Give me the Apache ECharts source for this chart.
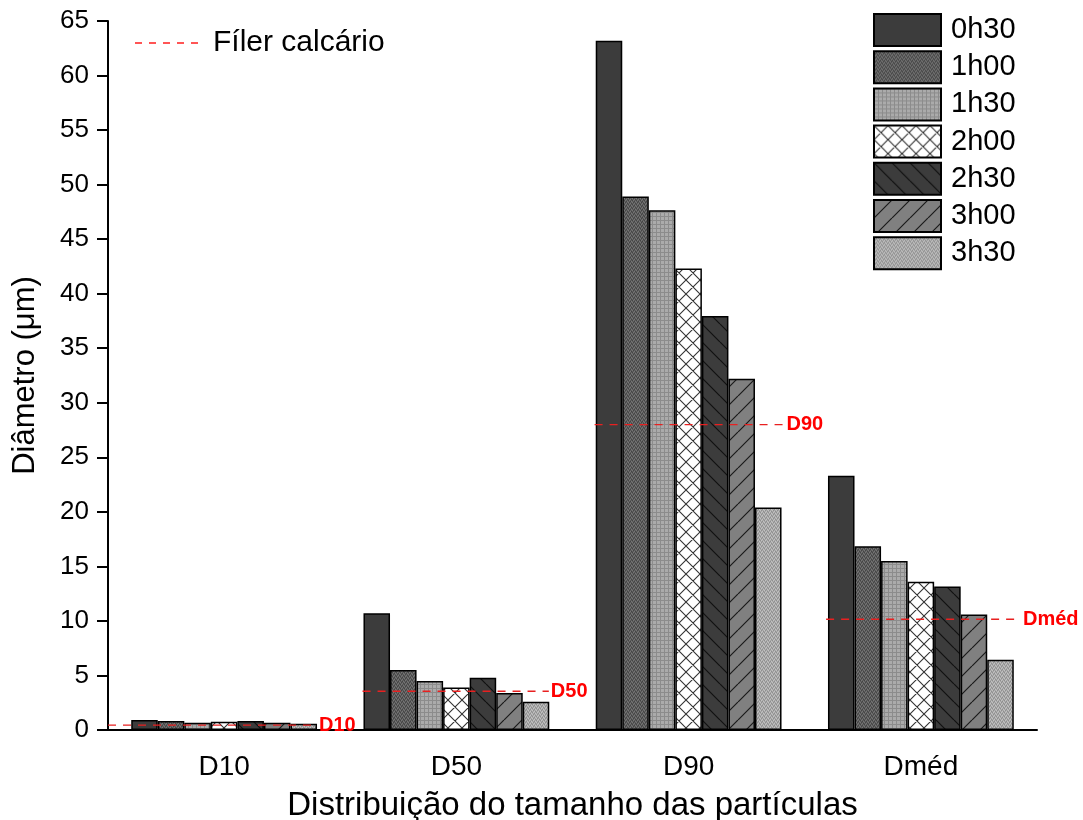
<!DOCTYPE html>
<html>
<head>
<meta charset="utf-8">
<script src="https://cdn.jsdelivr.net/npm/echarts@6/dist/echarts.min.js"></script>
<style>html,body{margin:0;padding:0;background:#fff}#c{width:1083px;height:820px}</style>
</head>
<body>
<div id="c"></div>
<script>
const categories = ['D10', 'D50', 'D90', 'Dméd'];
const seriesNames = ['0h30', '1h00', '1h30', '2h00', '2h30', '3h00', '3h30'];
const v0h30 = [0.92, 10.7, 63.2, 23.3];
const v1h00 = [0.83, 5.5, 48.9, 16.85];
const v1h30 = [0.67, 4.5, 47.65, 15.5];
const v2h00 = [0.76, 3.9, 42.3, 13.6];
const v2h30 = [0.83, 4.8, 37.95, 13.15];
const v3h00 = [0.67, 3.4, 32.2, 10.6];
const v3h30 = [0.58, 2.6, 20.4, 6.45];
const filerValues = [0.45, 3.55, 28.0, 10.15];
const filerLabels = ['D10', 'D50', 'D90', 'Dméd'];
const yTicks = { min: 0, max: 65, interval: 5 };

const allValues = [v0h30, v1h00, v1h30, v2h00, v2h30, v3h00, v3h30];

// line extents on the hidden value x axis (category i spans [i, i+1])
const lineExtents = [[0.0, 0.9], [1.096, 1.898], [2.095, 2.913], [3.092, 3.931]];

function makeCanvas(w, h, draw) {
  const c = document.createElement('canvas');
  c.width = w; c.height = h;
  const ctx = c.getContext('2d');
  draw(ctx, w, h);
  return { image: c, repeat: 'repeat' };
}
function noise(base, dark, light) {
  return makeCanvas(4, 4, (ctx) => {
    ctx.fillStyle = base; ctx.fillRect(0, 0, 4, 4);
    ctx.fillStyle = dark;
    [[0,0],[2,1],[1,2],[3,3]].forEach(p => ctx.fillRect(p[0], p[1], 1, 1));
    ctx.fillStyle = light;
    [[1,0],[3,1],[0,2],[2,3]].forEach(p => ctx.fillRect(p[0], p[1], 1, 1));
  });
}
function grid(base, line) {
  return makeCanvas(4, 4, (ctx) => {
    ctx.fillStyle = base; ctx.fillRect(0, 0, 4, 4);
    ctx.fillStyle = line;
    ctx.fillRect(0, 0, 4, 1);
    ctx.fillRect(0, 0, 1, 4);
  });
}
function diag(base, line, period, dir) {
  return makeCanvas(period, period, (ctx, w, h) => {
    ctx.fillStyle = base; ctx.fillRect(0, 0, w, h);
    ctx.strokeStyle = line; ctx.lineWidth = 1.2;
    ctx.beginPath();
    for (let k = -1; k <= 1; k++) {
      if (dir > 0) { ctx.moveTo(k * w, h); ctx.lineTo(k * w + w, 0); }
      else { ctx.moveTo(k * w, 0); ctx.lineTo(k * w + w, h); }
    }
    ctx.stroke();
  });
}
function cross(base, line, period) {
  return makeCanvas(period, period, (ctx, w, h) => {
    ctx.fillStyle = base; ctx.fillRect(0, 0, w, h);
    ctx.strokeStyle = line; ctx.lineWidth = 1.1;
    ctx.beginPath();
    for (let k = -1; k <= 1; k++) {
      ctx.moveTo(k * w, h); ctx.lineTo(k * w + w, 0);
      ctx.moveTo(k * w, 0); ctx.lineTo(k * w + w, h);
    }
    ctx.stroke();
  });
}

const fills = [
  '#3c3c3c',
  noise('#5c5c5c', '#444444', '#767676'),
  grid('#ababab', '#8c8c8c'),
  cross('#ffffff', '#333333', 14),
  diag('#3c3c3c', '#111111', 18, -1),
  diag('#808080', '#1a1a1a', 18, 1),
  noise('#a8a8a8', '#8e8e8e', '#c2c2c2')
];

const font = 'Liberation Sans, Arial, sans-serif';
const red = '#e82020';

const series = [];
seriesNames.forEach((n, i) => {
  series.push({
    name: n, type: 'bar', xAxisIndex: 0, yAxisIndex: 0,
    data: allValues[i],
    barGap: '0%', barCategoryGap: '20%',
    itemStyle: { color: fills[i], borderColor: '#000', borderWidth: 1.5 },
    z: 2
  });
});
categories.forEach((c, i) => {
  series.push({
    name: 'Fíler calcário', type: 'line', xAxisIndex: 1, yAxisIndex: 0,
    data: [[lineExtents[i][0], filerValues[i]], [lineExtents[i][1], filerValues[i]]],
    symbol: 'none', silent: true,
    lineStyle: { color: red, width: 1.4, type: [8, 7] },
    itemStyle: { color: red },
    endLabel: { show: true, formatter: filerLabels[i], color: '#ff0000', fontWeight: 'bold', fontSize: 20, fontFamily: font, distance: 2 },
    z: 5
  });
});

const dashIcon = 'path://M0,0h7v2h-7z M14,0h7v2h-7z M28,0h7v2h-7z M42,0h7v2h-7z M56,0h7v2h-7z';

const chart = echarts.init(document.getElementById('c'), null, { renderer: 'canvas' });
chart.setOption({
  animation: false,
  backgroundColor: '#fff',
  grid: { left: 108, right: 46, top: 21, bottom: 90, containLabel: false, outerBoundsMode: 'none' },
  legend: [
    {
      data: seriesNames, orient: 'vertical', left: 868, top: 8,
      itemWidth: 67, itemHeight: 32, itemGap: 3.2,
      textStyle: { fontSize: 29, fontFamily: font, color: '#000', lineHeight: 32, padding: [0, 0, 0, 5] },
      icon: 'rect', selectedMode: false
    },
    {
      data: [{ name: 'Fíler calcário', icon: dashIcon, itemStyle: { color: '#ff5555', borderWidth: 0 } }],
      left: 130, top: 23,
      itemWidth: 63, itemHeight: 2,
      textStyle: { fontSize: 30, fontFamily: font, color: '#000', lineHeight: 30, padding: [0, 0, 0, 10] },
      selectedMode: false
    }
  ],
  xAxis: [
    {
      type: 'category', data: categories,
      axisLine: { lineStyle: { color: '#000', width: 2 } },
      axisTick: { alignWithLabel: true, length: 11, lineStyle: { color: '#000', width: 2 } },
      axisLabel: { fontSize: 28, fontFamily: font, color: '#000', margin: 23 },
      name: 'Distribuição do tamanho das partículas', nameLocation: 'middle', nameGap: 59,
      nameTextStyle: { fontSize: 33, fontFamily: font, color: '#000' }
    },
    { type: 'value', min: 0, max: 4, show: false }
  ],
  yAxis: {
    type: 'value', min: yTicks.min, max: yTicks.max, interval: yTicks.interval,
    axisLine: { show: true, lineStyle: { color: '#000', width: 2 } },
    axisTick: { show: true, length: 11, lineStyle: { color: '#000', width: 2 } },
    axisLabel: { fontSize: 26, fontFamily: font, color: '#000', margin: 19 },
    splitLine: { show: false },
    name: 'Diâmetro (μm)', nameLocation: 'middle', nameGap: 67,
    nameTextStyle: { fontSize: 31, fontFamily: font, color: '#000' }
  },
  series: series
});
</script>
</body>
</html>
